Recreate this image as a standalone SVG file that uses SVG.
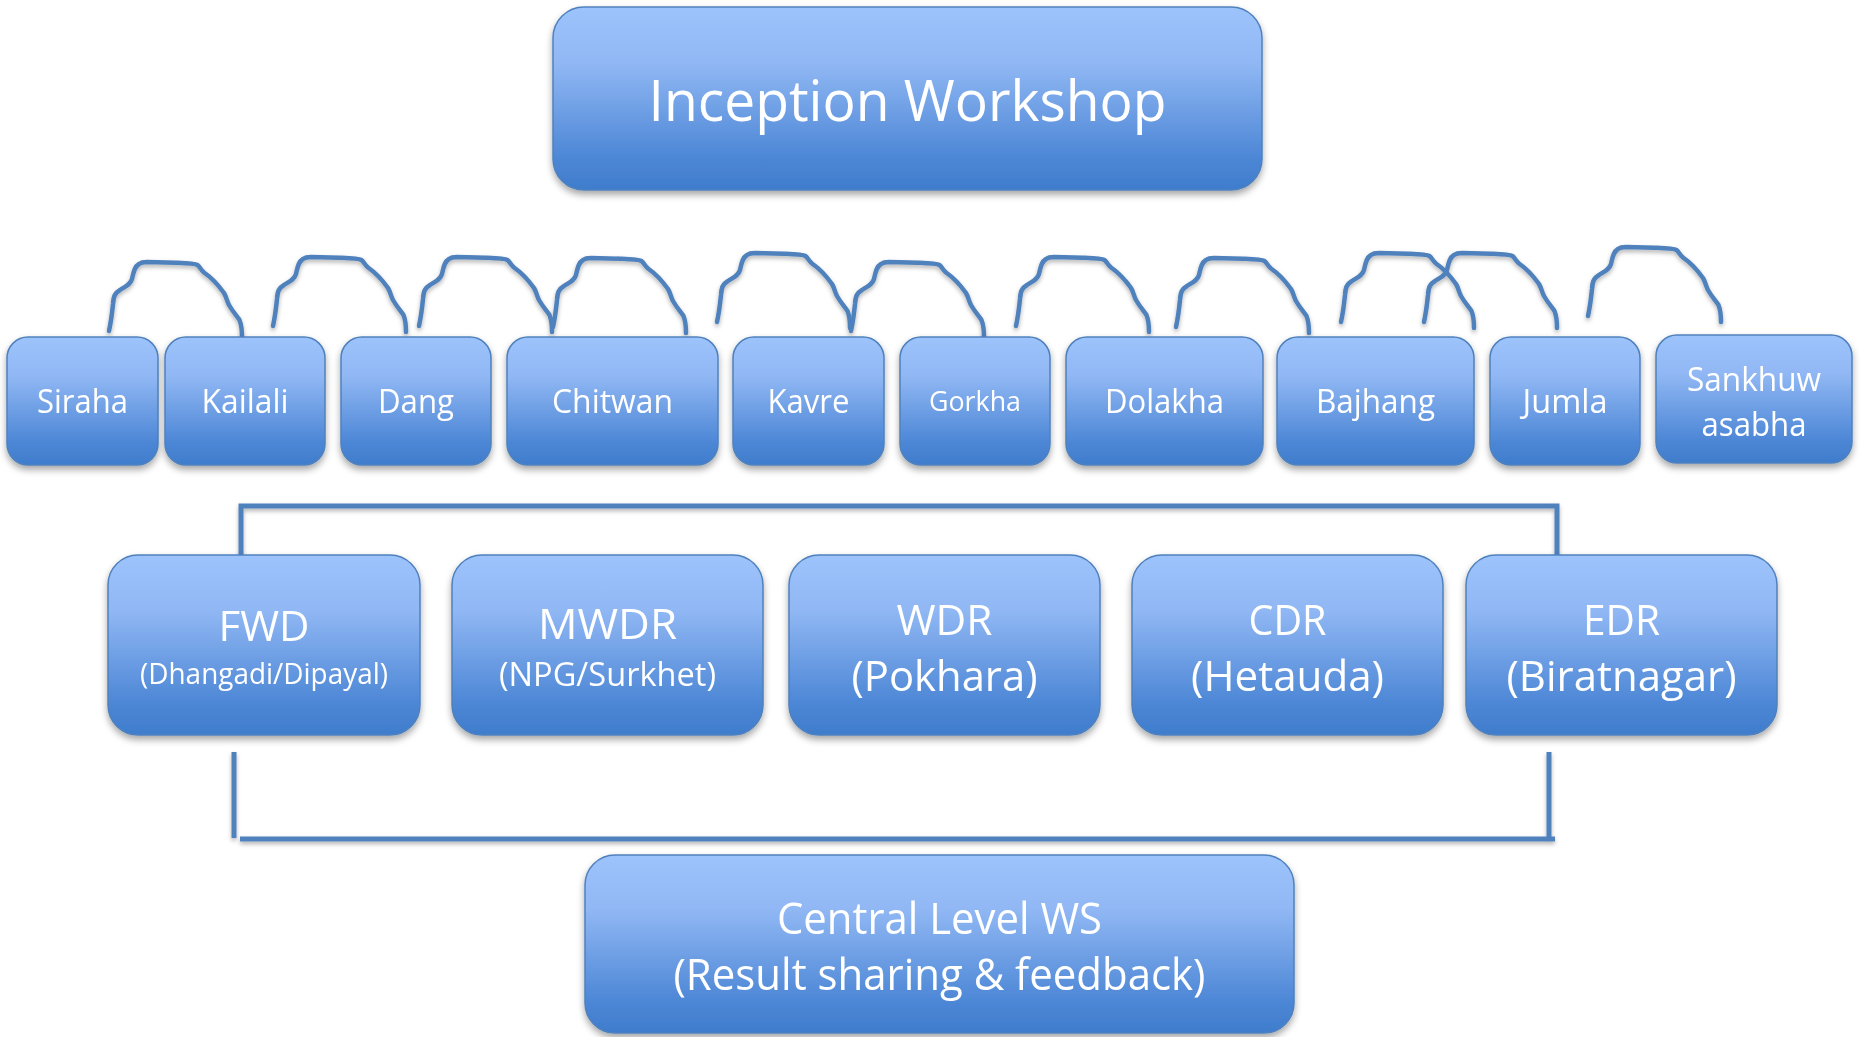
<svg xmlns="http://www.w3.org/2000/svg" width="1861" height="1037" viewBox="0 0 1861 1037">
<defs>
<linearGradient id="g" x1="0" y1="0" x2="0" y2="1">
<stop offset="0" stop-color="#9dc3fc"/>
<stop offset="0.3" stop-color="#91b8f4"/>
<stop offset="0.82" stop-color="#4d87d6"/>
<stop offset="1" stop-color="#3f7dcc"/>
</linearGradient>
<filter id="sh" x="-10%" y="-10%" width="120%" height="130%">
<feDropShadow dx="0" dy="4" stdDeviation="3.5" flood-color="#000" flood-opacity="0.35"/>
</filter>
<filter id="lsh" filterUnits="userSpaceOnUse" x="0" y="0" width="1861" height="1037">
<feDropShadow dx="0" dy="2.5" stdDeviation="2" flood-color="#000" flood-opacity="0.3"/>
</filter>
<path id="arc" d="M0,69 C1.5,62 3,52 4,42 C4.5,34 6,31 11,28 C17,24 21,23 23,17 C24.5,11 25,5 30,2 C32,0.5 34,0 38,0 L67,0.7 C78,1.2 86,1.5 88.5,3 C91,5 92,8 95,10.5 C103,16 110,24 115,31 C118,36 118,40 120,43 C124,50 128,54 130.5,58 C132.5,63 133,68 133,75"/>
</defs>
<style>
.box{fill:url(#g);stroke:#4f81bd;stroke-width:1.5;filter:url(#sh)}
.t{fill:#fff;font-family:"Open Sans","Noto Sans","Liberation Sans",sans-serif;text-anchor:middle}
.ln{fill:none;stroke:#4f81bd;stroke-width:5}
.a{fill:none;stroke:#4f81bd;stroke-width:4.5;stroke-linecap:round;stroke-linejoin:round}
</style>
<rect width="1861" height="1037" fill="#fff"/>

<g id="connectors" filter="url(#lsh)">
<use href="#arc" class="a" transform="translate(109,262)"/>
<use href="#arc" class="a" transform="translate(273,257)"/>
<use href="#arc" class="a" transform="translate(419,257)"/>
<use href="#arc" class="a" transform="translate(553,258)"/>
<use href="#arc" class="a" transform="translate(717,253)"/>
<use href="#arc" class="a" transform="translate(851,262)"/>
<use href="#arc" class="a" transform="translate(1016,257)"/>
<use href="#arc" class="a" transform="translate(1176,258)"/>
<use href="#arc" class="a" transform="translate(1341,253)"/>
<use href="#arc" class="a" transform="translate(1424,253)"/>
<use href="#arc" class="a" transform="translate(1588,247)"/>
<path class="ln" d="M241,556 V506 H1557 V556"/>
<path class="ln" d="M234,752 V838"/>
<path class="ln" d="M1549,752 V838"/>
<path class="ln" d="M240,839 H1555"/>
</g>

<g id="inception">
<rect class="box" x="553" y="7" width="709" height="183" rx="31"/>
<text class="t" x="907.5" y="121" font-size="56" textLength="518" lengthAdjust="spacingAndGlyphs">Inception Workshop</text>
</g>

<g id="siraha"><rect class="box" x="7" y="337" width="151" height="128" rx="21"/><text class="t" x="82.5" y="413" font-size="33" textLength="91" lengthAdjust="spacingAndGlyphs">Siraha</text></g>
<g id="kailali"><rect class="box" x="165" y="337" width="160" height="128" rx="21"/><text class="t" x="245" y="413" font-size="33" textLength="87" lengthAdjust="spacingAndGlyphs">Kailali</text></g>
<g id="dang"><rect class="box" x="341" y="337" width="150" height="128" rx="21"/><text class="t" x="416" y="413" font-size="33" textLength="76" lengthAdjust="spacingAndGlyphs">Dang</text></g>
<g id="chitwan"><rect class="box" x="507" y="337" width="211" height="128" rx="21"/><text class="t" x="612.5" y="413" font-size="33" textLength="121" lengthAdjust="spacingAndGlyphs">Chitwan</text></g>
<g id="kavre"><rect class="box" x="733" y="337" width="151" height="128" rx="21"/><text class="t" x="808.5" y="413" font-size="33" textLength="82" lengthAdjust="spacingAndGlyphs">Kavre</text></g>
<g id="gorkha"><rect class="box" x="900" y="337" width="150" height="128" rx="21"/><text class="t" x="975" y="411" font-size="28" textLength="92" lengthAdjust="spacingAndGlyphs">Gorkha</text></g>
<g id="dolakha"><rect class="box" x="1066" y="337" width="197" height="128" rx="21"/><text class="t" x="1164.5" y="413" font-size="33" textLength="119" lengthAdjust="spacingAndGlyphs">Dolakha</text></g>
<g id="bajhang"><rect class="box" x="1277" y="337" width="197" height="128" rx="21"/><text class="t" x="1375.5" y="413" font-size="33" textLength="119" lengthAdjust="spacingAndGlyphs">Bajhang</text></g>
<g id="jumla"><rect class="box" x="1490" y="337" width="150" height="128" rx="21"/><text class="t" x="1565" y="413" font-size="33" textLength="85" lengthAdjust="spacingAndGlyphs">Jumla</text></g>
<g id="sankhuwasabha"><rect class="box" x="1656" y="335" width="196" height="128" rx="21"/>
<text class="t" x="1754" y="391" font-size="33" textLength="134" lengthAdjust="spacingAndGlyphs">Sankhuw</text>
<text class="t" x="1754" y="436" font-size="33" textLength="105" lengthAdjust="spacingAndGlyphs">asabha</text></g>

<g id="fwd"><rect class="box" x="108" y="555" width="312" height="180" rx="30"/>
<text class="t" x="264" y="641" font-size="42" textLength="91" lengthAdjust="spacingAndGlyphs">FWD</text>
<text class="t" x="264" y="684" font-size="28.5" textLength="248" lengthAdjust="spacingAndGlyphs">(Dhangadi/Dipayal)</text></g>
<g id="mwdr"><rect class="box" x="452" y="555" width="311" height="180" rx="30"/>
<text class="t" x="607.5" y="639" font-size="42" textLength="139" lengthAdjust="spacingAndGlyphs">MWDR</text>
<text class="t" x="607.5" y="686" font-size="33" textLength="217" lengthAdjust="spacingAndGlyphs">(NPG/Surkhet)</text></g>
<g id="wdr"><rect class="box" x="789" y="555" width="311" height="180" rx="30"/>
<text class="t" x="944.5" y="635" font-size="42" textLength="96" lengthAdjust="spacingAndGlyphs">WDR</text>
<text class="t" x="944.5" y="691" font-size="42" textLength="186" lengthAdjust="spacingAndGlyphs">(Pokhara)</text></g>
<g id="cdr"><rect class="box" x="1132" y="555" width="311" height="180" rx="30"/>
<text class="t" x="1287.5" y="635" font-size="42" textLength="78" lengthAdjust="spacingAndGlyphs">CDR</text>
<text class="t" x="1287.5" y="691" font-size="42" textLength="193" lengthAdjust="spacingAndGlyphs">(Hetauda)</text></g>
<g id="edr"><rect class="box" x="1466" y="555" width="311" height="180" rx="30"/>
<text class="t" x="1621.5" y="635" font-size="42" textLength="77" lengthAdjust="spacingAndGlyphs">EDR</text>
<text class="t" x="1621.5" y="691" font-size="42" textLength="230" lengthAdjust="spacingAndGlyphs">(Biratnagar)</text></g>

<g id="central"><rect class="box" x="585" y="855" width="709" height="178" rx="30"/>
<text class="t" x="939.5" y="934" font-size="43" textLength="325" lengthAdjust="spacingAndGlyphs">Central Level WS</text>
<text class="t" x="939.5" y="990" font-size="43" textLength="532" lengthAdjust="spacingAndGlyphs">(Result sharing &amp; feedback)</text></g>
</svg>
